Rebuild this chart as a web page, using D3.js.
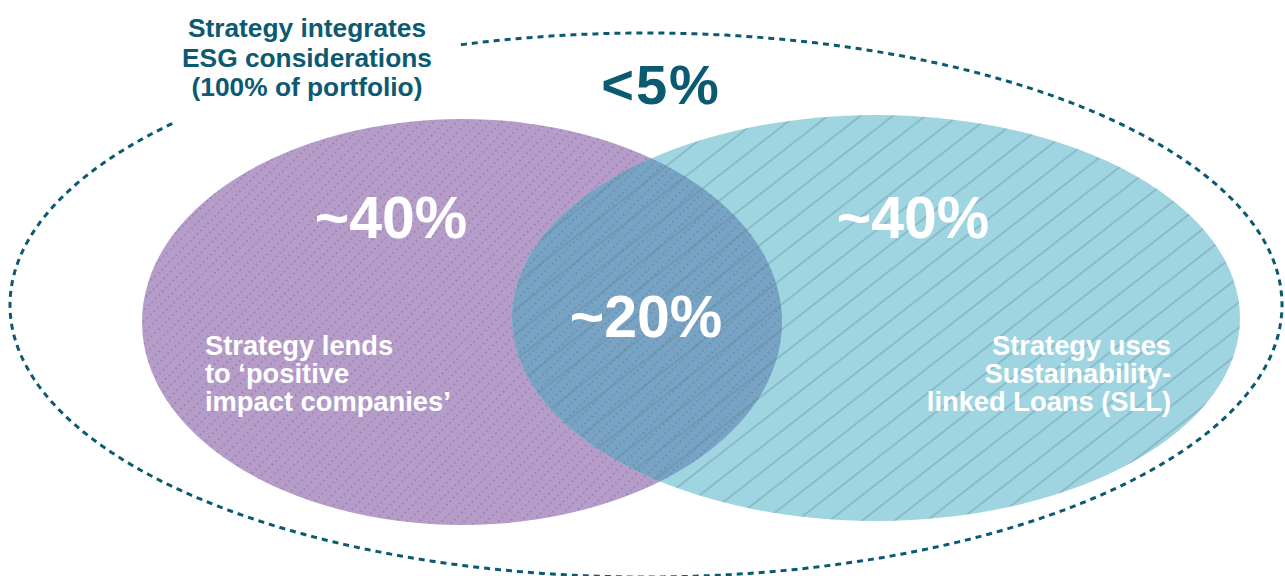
<!DOCTYPE html>
<html>
<head>
<meta charset="utf-8">
<script src="https://cdn.jsdelivr.net/npm/d3@7"></script>
<style>
  body { margin: 0; background: #fff; }
  svg { display: block; font-family: "Liberation Sans", Arial, sans-serif; }
</style>
</head>
<body>
<div id="container"></div>
<script>
/**
 * DATA
 * */
const setNames = ["impact", "sll"];
const shares = ["~40%", "~40%"];
const overlapShare = "~20%";
const outerShare = "<5%";
const outerLabel = ["Strategy integrates", "ESG considerations", "(100% of portfolio)"];
const setLabels = [
  ["Strategy lends", "to \u2018positive", "impact companies\u2019"],
  ["Strategy uses", "Sustainability-", "linked Loans (SLL)"]
];

/**
 * CONSTANTS
 * */
const width = 1285, height = 576;
const dark = "#0b5a72";
const fills = { impact: "#b59cc9", sll: "#9fd5e1", both: "#77a3c4" };

// ellipse geometry (pixels)
const shapes = {
  outer: { cx: 646, cy: 305, rx: 636, ry: 272 },
  impact: { cx: 462, cy: 322, rx: 320, ry: 203 },
  sll: { cx: 876, cy: 318, rx: 364, ry: 203 }
};

const svg = d3.select("#container")
  .append("svg")
  .attr("width", width)
  .attr("height", height);

const defs = svg.append("defs");

// dotted diagonal hatch for the purple set
const dotPat = defs.append("pattern")
  .attr("id", "dots")
  .attr("patternUnits", "userSpaceOnUse")
  .attr("width", 8).attr("height", 10)
  .attr("patternTransform", "rotate(45)");
dotPat.append("line")
  .attr("x1", 1).attr("y1", 0).attr("x2", 1).attr("y2", 10)
  .attr("stroke", "#715e86")
  .attr("stroke-width", 1.4)
  .attr("stroke-dasharray", "1.4 3.6")
  .attr("opacity", 0.6);

// thin diagonal lines for the teal set
const linePat = defs.append("pattern")
  .attr("id", "lines")
  .attr("patternUnits", "userSpaceOnUse")
  .attr("width", 20).attr("height", 20)
  .attr("patternTransform", "rotate(52)");
linePat.append("line")
  .attr("x1", 1).attr("y1", 0).attr("x2", 1).attr("y2", 20)
  .attr("stroke", "#5a8794")
  .attr("stroke-width", 1.1)
  .attr("opacity", 0.6);

defs.append("clipPath").attr("id", "clipImpact")
  .append("ellipse")
  .attr("cx", shapes.impact.cx).attr("cy", shapes.impact.cy)
  .attr("rx", shapes.impact.rx).attr("ry", shapes.impact.ry);

// outer dashed ellipse, broken where the label sits
const outer = shapes.outer;
const arc = d3.range(-Math.PI * 0.594, Math.PI * 1.235, 0.005).map(t =>
  [outer.cx + outer.rx * Math.cos(t), outer.cy + outer.ry * Math.sin(t)]);
svg.append("path")
  .attr("d", d3.line()(arc))
  .attr("fill", "none")
  .attr("stroke", dark)
  .attr("stroke-width", 3)
  .attr("stroke-dasharray", "6 5");

function ellipse(g, s, fill) {
  return g.append("ellipse")
    .attr("cx", s.cx).attr("cy", s.cy)
    .attr("rx", s.rx).attr("ry", s.ry)
    .attr("fill", fill);
}

// sets
ellipse(svg, shapes.impact, fills.impact);
ellipse(svg, shapes.impact, "url(#dots)");
ellipse(svg, shapes.sll, fills.sll);
ellipse(svg, shapes.sll, "url(#lines)");

// overlap
const both = svg.append("g").attr("clip-path", "url(#clipImpact)");
ellipse(both, shapes.sll, fills.both);
ellipse(both, shapes.sll, "url(#dots)");
ellipse(both, shapes.sll, "url(#lines)");

// share labels
const sharePos = [[391, 238], [913, 238]];
svg.selectAll("text.share")
  .data(shares)
  .join("text")
  .attr("class", "share")
  .attr("x", (d, i) => sharePos[i][0])
  .attr("y", (d, i) => sharePos[i][1])
  .attr("text-anchor", "middle")
  .attr("fill", "#fff")
  .attr("font-size", 59)
  .attr("font-weight", "bold")
  .text(d => d);

svg.append("text")
  .attr("x", 646).attr("y", 337)
  .attr("text-anchor", "middle")
  .attr("fill", "#fff")
  .attr("font-size", 59)
  .attr("font-weight", "bold")
  .text(overlapShare);

svg.append("text")
  .attr("x", 661).attr("y", 104)
  .attr("text-anchor", "middle")
  .attr("fill", dark)
  .attr("font-size", 56)
  .attr("font-weight", "bold")
  .attr("letter-spacing", 2)
  .text(outerShare);

// outer label
svg.append("text")
  .attr("text-anchor", "middle")
  .attr("fill", dark)
  .attr("font-size", 26.3)
  .attr("font-weight", "bold")
  .selectAll("tspan")
  .data(outerLabel)
  .join("tspan")
  .attr("x", 307)
  .attr("y", (d, i) => 37 + i * 29.5)
  .text(d => d);

// set labels
const labelPos = [
  { x: 205, anchor: "start" },
  { x: 1171, anchor: "end" }
];
setLabels.forEach((lines, k) => {
  svg.append("text")
    .attr("class", setNames[k])
    .attr("text-anchor", labelPos[k].anchor)
    .attr("fill", "#fff")
    .attr("font-size", 27.3)
    .attr("font-weight", "bold")
    .selectAll("tspan")
    .data(lines)
    .join("tspan")
    .attr("x", labelPos[k].x)
    .attr("y", (d, i) => 355 + i * 28)
    .text(d => d);
});
</script>
</body>
</html>
